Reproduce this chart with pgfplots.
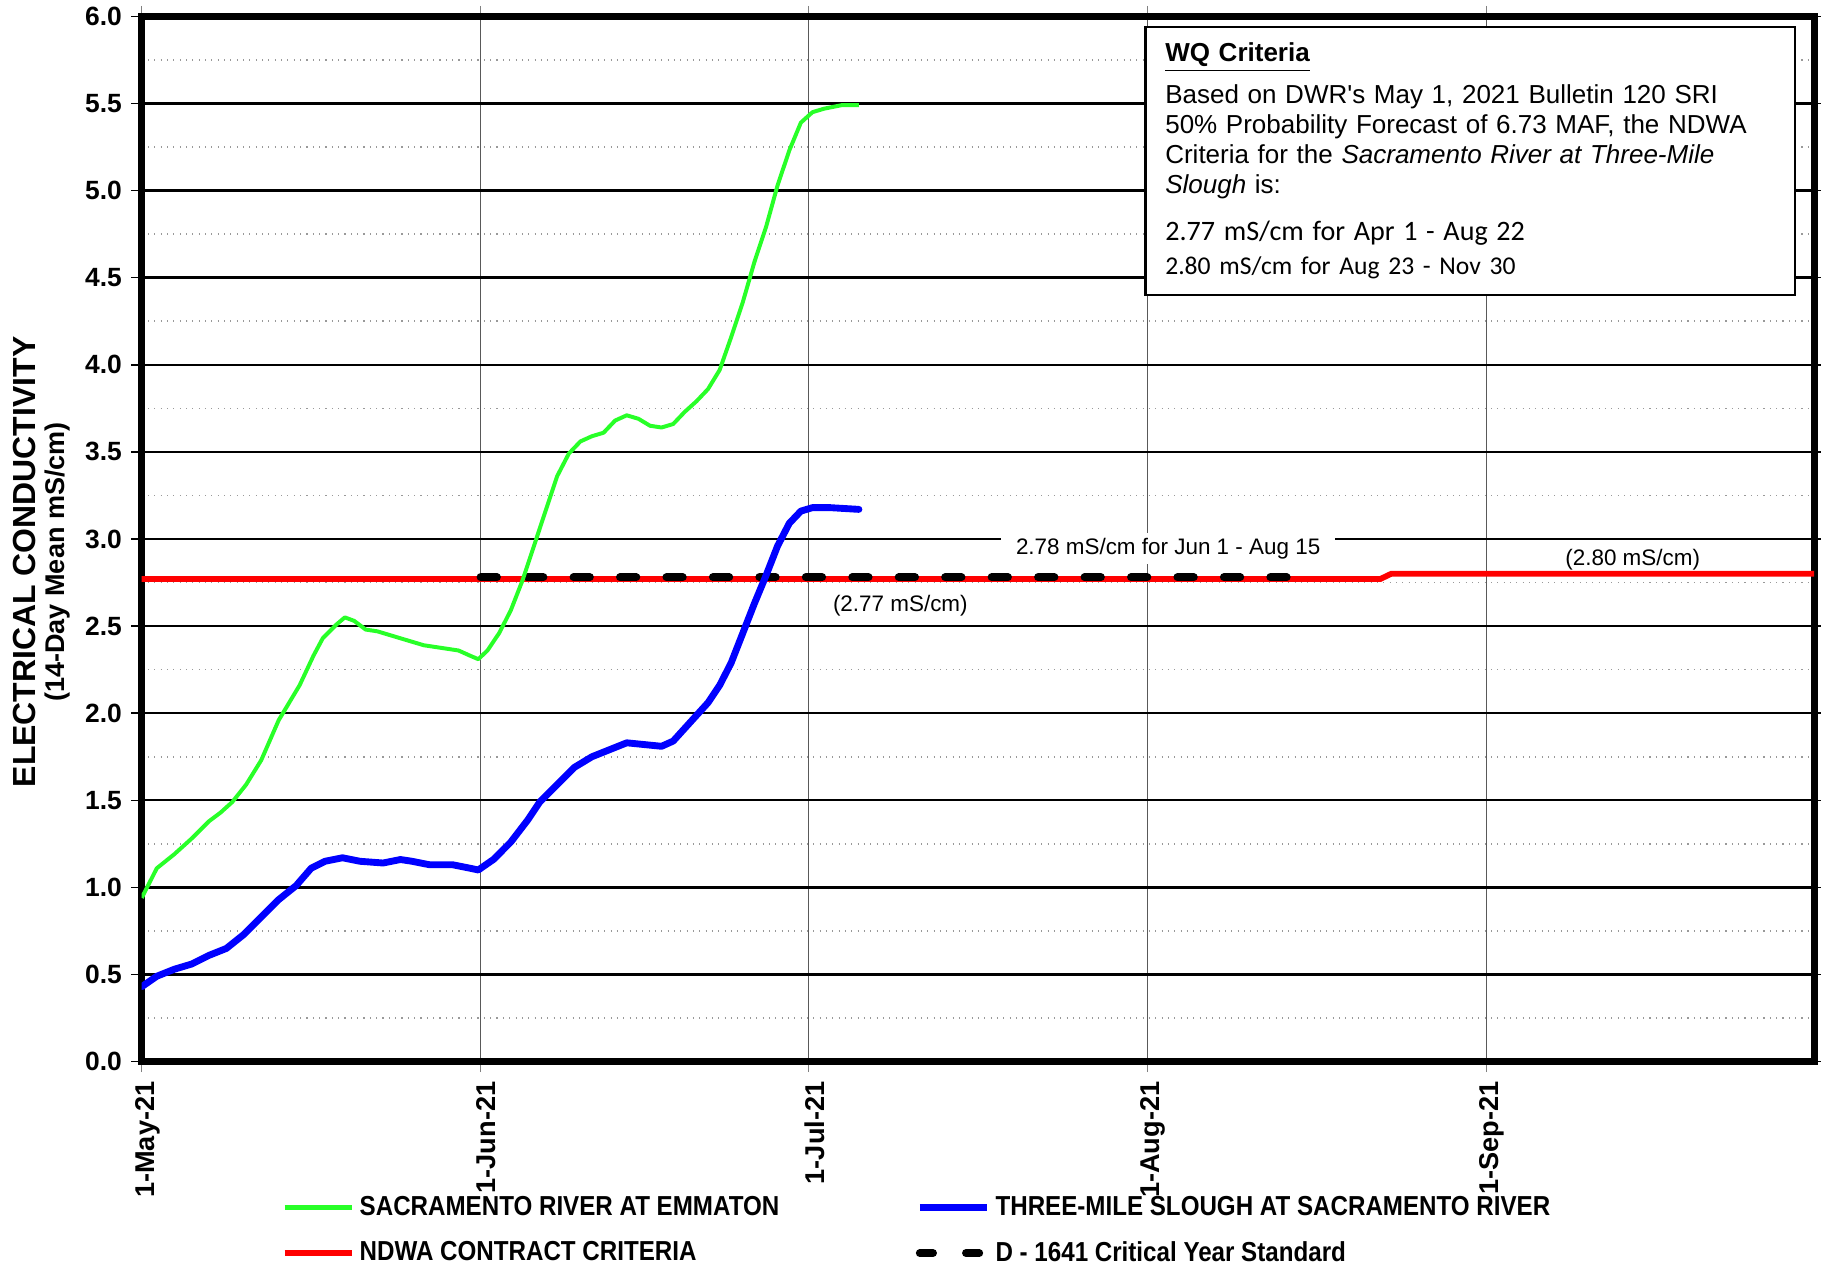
\documentclass[border=0pt]{standalone}
\usepackage{fontspec}
\setmainfont{Liberation Sans}
\newfontfamily\narrowfont[FakeStretch=0.88]{Liberation Sans}
\newfontfamily\calibri{Carlito}
\usepackage{pgfplots}
\pgfplotsset{compat=1.18}
\definecolor{emgreen}{RGB}{40,255,40}
\definecolor{tmblue}{RGB}{0,0,255}
\definecolor{ndred}{RGB}{255,0,0}

\begin{document}
\begin{tikzpicture}
\begin{axis}[
  at={(0,0)}, anchor=south west,
  scale only axis, width=633.6pt, height=396pt,
  xmin=0, xmax=153, ymin=0, ymax=6,
  axis line style={line width=2.6pt, line cap=rect},
  xtick={0,31,61,92,123},
  xticklabels={1-May-21,1-Jun-21,1-Jul-21,1-Aug-21,1-Sep-21},
  xticklabel style={rotate=90, anchor=east, yshift=-2.2pt, font=\bfseries\fontsize{10.3}{12}\selectfont},
  ytick={0,0.5,1,1.5,2,2.5,3,3.5,4,4.5,5,5.5,6},
  minor ytick={0.25,0.75,1.25,1.75,2.25,2.75,3.25,3.75,4.25,4.75,5.25,5.75},
  yticklabel style={font=\bfseries\fontsize{10}{12}\selectfont,
    /pgf/number format/fixed, /pgf/number format/fixed zerofill,
    /pgf/number format/precision=1, /pgf/number format/assume math mode=true},
  tick align=outside, major tick length=4pt, minor tick length=0pt,
  xtick style={gray, line width=0.5pt},
  ytick style={black, line width=0.6pt},
  xmajorgrids, ymajorgrids, yminorgrids,
  major x grid style={gray!70!black, line width=0.5pt},
  major y grid style={black, line width=0.9pt},
  minor y grid style={gray!80, dotted, line width=0.6pt},
  legend columns=2,
  legend cell align=left,
  legend style={at={(axis description cs:0.0833,-0.128)}, anchor=north west,
    draw=none, fill=none, inner sep=0pt, row sep=8.4pt,
    font=\narrowfont\bfseries\fontsize{10.4}{12}\selectfont,
    nodes={inner sep=0pt},
    /tikz/every odd column/.append style={column sep=1.7pt}},
  legend image code/.code={\draw[#1] (0pt,0pt) -- (25.5pt,0pt);},
]
\addlegendimage{emgreen, line width=2pt}
\addlegendentry{\makebox[210.7pt][l]{SACRAMENTO RIVER AT EMMATON}}
\addlegendimage{tmblue, line width=3pt}
\addlegendentry{THREE-MILE SLOUGH AT SACRAMENTO RIVER}
\addlegendimage{ndred, line width=2.4pt}
\addlegendentry{\makebox[210.7pt][l]{NDWA CONTRACT CRITERIA}}
\addlegendimage{black, line width=3pt, line cap=round, dash pattern=on 5pt off 12.5pt}
\addlegendentry{D - 1641 Critical Year Standard}

% NDWA contract criteria
\addplot[ndred, line width=2.2pt, forget plot] coordinates {
  (0,2.77) (113.3,2.77) (114.3,2.80) (153,2.80)};
% D-1641 standard
\addplot[black, line width=3pt, line cap=round, dash pattern=on 6.2pt off 11.4pt, forget plot] coordinates {
  (31,2.78) (106,2.78)};
% Sacramento River at Emmaton
\addplot[emgreen, line width=1.5pt, line join=round, forget plot] coordinates {
(0.00,0.94) (1.38,1.11) (2.97,1.19) (4.56,1.28) (6.16,1.38) (7.22,1.43) (8.28,1.49)
(9.55,1.59) (10.93,1.73) (12.53,1.96) (14.44,2.16) (15.71,2.33) (16.56,2.43)
(17.83,2.51) (18.58,2.55) (19.43,2.53) (20.49,2.48) (21.55,2.47) (23.67,2.43)
(25.80,2.39) (27.92,2.37) (28.98,2.36) (30.04,2.33) (30.79,2.31) (31.63,2.36)
(32.70,2.46) (33.76,2.59) (34.82,2.76) (35.88,2.96) (36.94,3.16) (38.00,3.36)
(39.07,3.49) (40.13,3.56) (41.19,3.59) (42.25,3.61) (43.31,3.68) (44.37,3.71)
(45.44,3.69) (46.50,3.65) (47.56,3.64) (48.62,3.66) (49.68,3.73) (50.74,3.79)
(51.80,3.86) (52.87,3.97) (53.93,4.16) (54.99,4.36) (56.05,4.59) (57.11,4.79)
(58.17,5.03) (59.24,5.23) (60.30,5.39) (61.36,5.45) (62.42,5.47) (64.01,5.49)
(65.61,5.49)};
% Three-Mile Slough at Sacramento River
\addplot[tmblue, line width=2.6pt, line join=round, line cap=round, forget plot] coordinates {
(0.00,0.43) (1.38,0.49) (2.97,0.53) (4.56,0.56) (6.16,0.61) (7.75,0.65) (9.34,0.73)
(10.93,0.83) (12.53,0.93) (14.12,1.01) (15.50,1.11) (16.77,1.15) (18.37,1.17)
(19.96,1.15) (22.08,1.14) (23.67,1.16) (24.73,1.15) (26.33,1.13) (28.45,1.13)
(30.04,1.11) (30.79,1.10) (32.17,1.16) (33.76,1.26) (35.35,1.39) (36.41,1.49)
(38.00,1.59) (39.60,1.69) (41.19,1.75) (42.78,1.79) (44.37,1.83) (45.97,1.82)
(47.56,1.81) (48.62,1.84) (50.21,1.95) (51.80,2.06) (52.87,2.16) (53.93,2.29)
(54.99,2.46) (56.05,2.63) (57.11,2.79) (58.17,2.96) (59.24,3.09) (60.30,3.16)
(61.36,3.18) (62.95,3.18) (65.61,3.17)};

\node[fill=white, inner xsep=5.5pt, inner ysep=2pt, font=\fontsize{8.5}{10}\selectfont]
  at (axis cs:93.9,2.945) {2.78 mS/cm for Jun 1 - Aug 15};
\node[font=\fontsize{8.5}{10}\selectfont] at (axis cs:69.4,2.615) {(2.77 mS/cm)};
\node[font=\fontsize{8.5}{10}\selectfont] at (axis cs:136.4,2.88) {(2.80 mS/cm)};

\node[draw, line width=0.9pt, fill=white, anchor=north west, inner xsep=7.5pt, inner ysep=6pt,
  text width=231pt, align=left, font=\fontsize{9.85}{11.4}\selectfont]
  at (axis cs:91.72,5.947) {%
  \textbf{\underline{WQ Criteria}}\\[4.4pt]
  Based on DWR\textquotesingle s May 1, 2021 Bulletin 120 SRI\\
  50\% Probability Forecast of 6.73 MAF, the NDWA\\
  Criteria for the \textit{Sacramento River at Three-Mile}\\
  \textit{Slough} is:\\[6.6pt]
  {\calibri\fontsize{10.65}{11.4}\selectfont 2.77 mS/cm for Apr 1 - Aug 22}\\[1.4pt]
  {\calibri\fontsize{9.7}{11.4}\selectfont 2.80 mS/cm for Aug 23 - Nov 30}};
\end{axis}
\node[rotate=90, align=center, font=\bfseries\fontsize{12.1}{11}\selectfont]
  at (-37.8pt,189.3pt)
  {ELECTRICAL CONDUCTIVITY\\{\fontsize{10.25}{11}\selectfont (14-Day Mean mS/cm)}};
\pgfresetboundingbox
\path[use as bounding box] (-53.7pt,-76.3pt) rectangle (636.2pt,402.2pt);
\end{tikzpicture}
\end{document}
